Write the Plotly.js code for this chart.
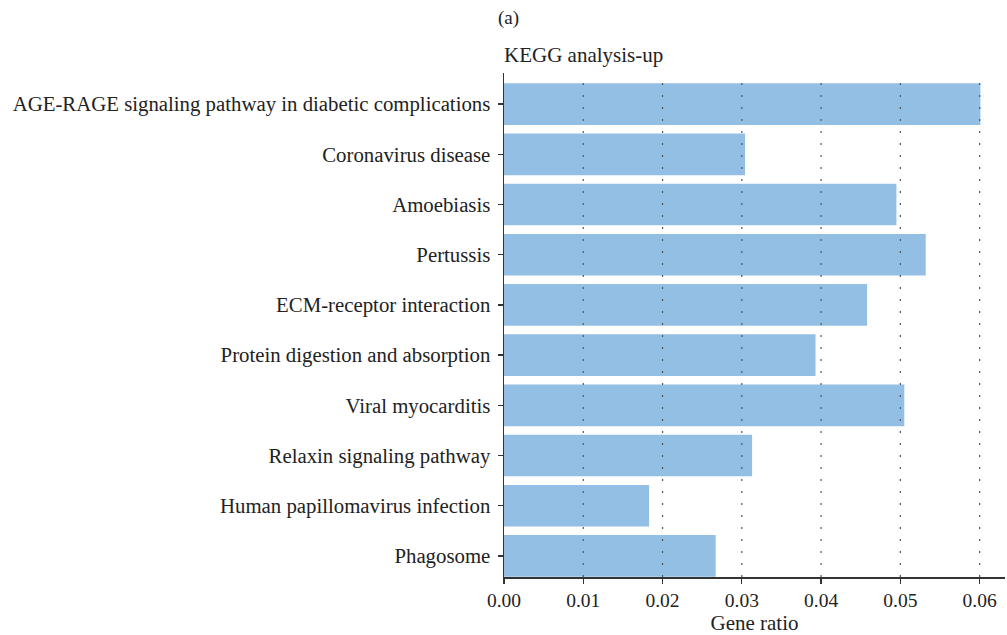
<!DOCTYPE html>
<html>
<head>
<meta charset="utf-8">
<script src="https://cdn.plot.ly/plotly-3.0.1.min.js"></script>
<style>html,body{margin:0;padding:0;background:#fff}#chart{width:1007px;height:635px}</style>
</head>
<body>
<div id="chart"></div>
<script>
// Data (top to bottom)
var categories = [
  "AGE-RAGE signaling pathway in diabetic complications",
  "Coronavirus disease",
  "Amoebiasis",
  "Pertussis",
  "ECM-receptor interaction",
  "Protein digestion and absorption",
  "Viral myocarditis",
  "Relaxin signaling pathway",
  "Human papillomavirus infection",
  "Phagosome"
];
var geneRatio = [0.0601, 0.0304, 0.0495, 0.0532, 0.0458, 0.0393, 0.0505, 0.0313, 0.0183, 0.0267];
var xTicks = [0, 0.01, 0.02, 0.03, 0.04, 0.05, 0.06];
var xTickLabels = ["0.00", "0.01", "0.02", "0.03", "0.04", "0.05", "0.06"];

var serif = "Liberation Serif, Times New Roman, serif";

var trace = {
  type: "bar",
  orientation: "h",
  x: geneRatio,
  y: categories,
  marker: {color: "#93bfe4"},
  width: 0.83,
  hoverinfo: "x+y"
};

var gridShapes = xTicks.filter(function(v){return v > 0;}).map(function(v){
  return {type: "line", xref: "x", yref: "paper", x0: v, x1: v, y0: 0, y1: 1,
          layer: "above", line: {color: "#555", width: 1.2, dash: "2px,10px"}};
});

var layout = {
  width: 1007, height: 635,
  margin: {l: 504, r: 2, t: 73, b: 58},
  paper_bgcolor: "#fff", plot_bgcolor: "#fff",
  showlegend: false,
  font: {family: serif, color: "#222", size: 20},
  xaxis: {
    range: [0, 0.0632],
    tickvals: xTicks, ticktext: xTickLabels,
    showgrid: false, zeroline: false,
    showline: true, linecolor: "#333", linewidth: 1.5,
    ticks: "outside", ticklen: 5, tickwidth: 1.3, tickcolor: "#333",
    tickfont: {family: serif, size: 19.5, color: "#222"},
    title: {text: "Gene ratio", font: {family: serif, size: 21, color: "#222"}, standoff: 7},
    fixedrange: true
  },
  yaxis: {
    type: "category",
    categoryorder: "array", categoryarray: categories,
    range: [9.42, -0.62],
    showgrid: false, zeroline: false,
    showline: true, linecolor: "#333", linewidth: 1.5,
    ticks: "outside", ticklen: 5, tickwidth: 1.3, tickcolor: "#333",
    ticklabelstandoff: 3,
    tickfont: {family: serif, size: 20.8, color: "#222"},
    fixedrange: true
  },
  shapes: gridShapes,
  annotations: [
    {text: "KEGG analysis-up", xref: "paper", yref: "paper", x: -0.004, y: 1, xanchor: "left", yanchor: "bottom",
     yshift: 4, showarrow: false, font: {family: serif, size: 21, color: "#222"}},
    {text: "(a)", xref: "paper", yref: "paper", x: -0.016, y: 1, xanchor: "left", yanchor: "bottom",
     yshift: 42, showarrow: false, font: {family: serif, size: 19, color: "#222"}}
  ]
};

Plotly.newPlot("chart", [trace], layout, {displayModeBar: false, staticPlot: true});
</script>
</body>
</html>
